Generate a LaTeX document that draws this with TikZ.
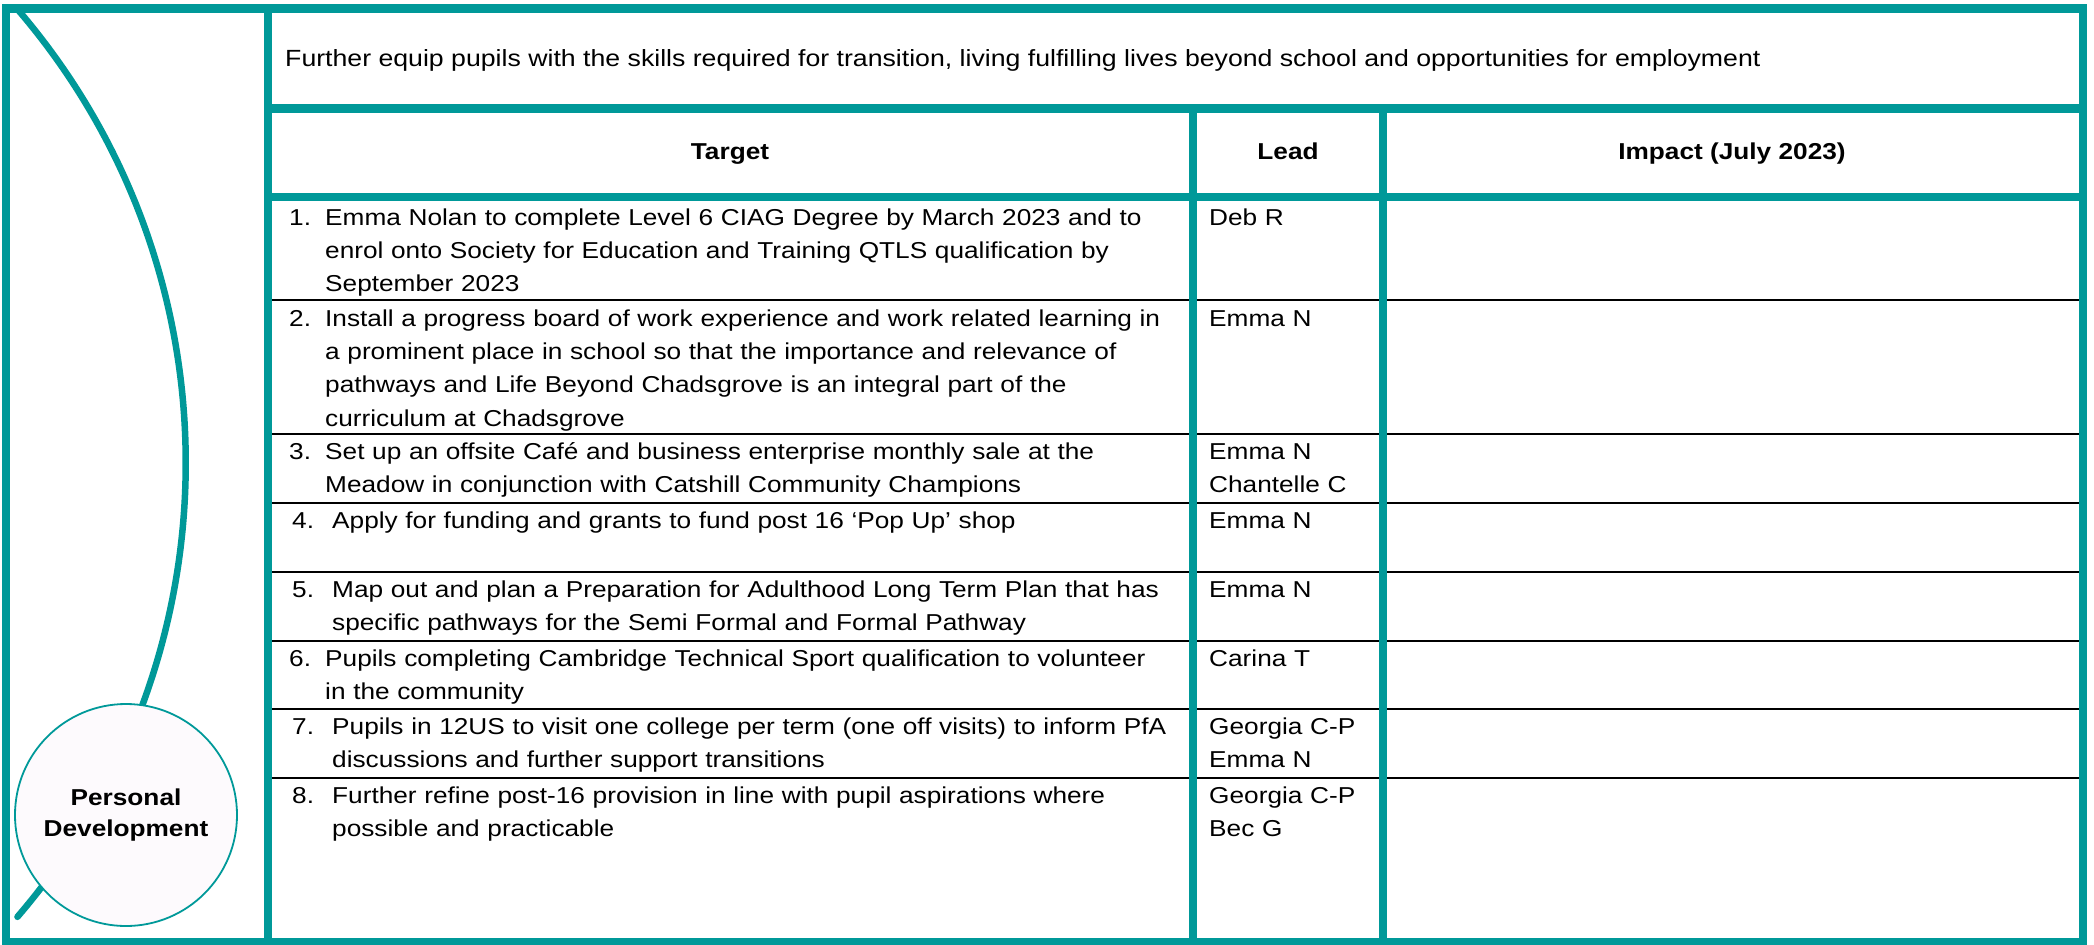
\documentclass[tikz,border=0pt]{standalone}
\usepackage{fontspec}
\setmainfont{Liberation Sans}[FakeStretch=1.14]
\definecolor{pdteal}{RGB}{0,153,153}
\definecolor{pdbubble}{RGB}{253,250,253}

\begin{document}
\begin{tikzpicture}[x=1pt,y=-1pt,
  frame/.style={draw=pdteal,line width=8.5pt},
  rowline/.style={draw=black,line width=1.3pt},
  txt/.style={font=\fontsize{23}{33.4}\selectfont,inner sep=0pt},
  head/.style={inner sep=0pt,anchor=base,font=\fontsize{23}{33.4}\selectfont\bfseries},
  num/.style={txt,anchor=base west},
  target/.style={txt,anchor=base west,text width=1000pt,align=left},
  lead/.style={txt,anchor=base west,text width=170pt,align=left}]
\useasboundingbox (0,0) rectangle (2094,945);

% the sweep behind the bubble
\coordinate (sweeptop) at (19,11);
\draw[pdteal,line width=6.5pt,line cap=round] (sweeptop) arc[start angle=-40.5,end angle=40.7,radius=696];
\node[circle,draw=pdteal,line width=1.8pt,fill=pdbubble,minimum size=222pt,inner sep=0pt,align=center,
  font=\fontsize{23}{31.3}\selectfont\bfseries] (bubble) at (126,815) {Personal\\Development};

% row rules
\draw[rowline] (268,300) -- (2083,300);
\draw[rowline] (268,434) -- (2083,434);
\draw[rowline] (268,503) -- (2083,503);
\draw[rowline] (268,572) -- (2083,572);
\draw[rowline] (268,641) -- (2083,641);
\draw[rowline] (268,709) -- (2083,709);
\draw[rowline] (268,778) -- (2083,778);

% teal frame
\draw[frame] (6,8.5) rectangle (2083,942.5);
\draw[frame] (268,8.5) -- (268,942.5);
\draw[frame] (268,108.5) -- (2083,108.5);
\draw[frame] (268,197) -- (2083,197);
\draw[frame] (1193,108.5) -- (1193,942.5);
\draw[frame] (1383,108.5) -- (1383,942.5);

\node[inner sep=0pt,anchor=base west,font=\fontsize{23.4}{33.4}\selectfont] (aim) at (285,66.7) {Further equip pupils with the skills required for transition, living fulfilling lives beyond school and opportunities for employment};

\node[head] (htarget) at (730,159.5) {Target};
\node[head] (hlead) at (1288,159.5) {Lead};
\node[head] (himpact) at (1732,159.5) {Impact (July 2023)};

\node[num] (n1) at (289,225) {1.};
\node[target] (t1) at (325,225) {Emma Nolan to complete Level 6 CIAG Degree by March 2023 and to\\enrol onto Society for Education and Training QTLS qualification by\\September 2023};
\node[lead] (l1) at (1209,225) {Deb R};

\node[num] (n2) at (289,326) {2.};
\node[target] (t2) at (325,326) {Install a progress board of work experience and work related learning in\\a prominent place in school so that the importance and relevance of\\pathways and Life Beyond Chadsgrove is an integral part of the\\curriculum at Chadsgrove};
\node[lead] (l2) at (1209,326) {Emma N};

\node[num] (n3) at (289,459) {3.};
\node[target] (t3) at (325,459) {Set up an offsite Café and business enterprise monthly sale at the\\Meadow in conjunction with Catshill Community Champions};
\node[lead] (l3) at (1209,459) {Emma N\\Chantelle C};

\node[num] (n4) at (292,528.5) {4.};
\node[target] (t4) at (332,528.5) {Apply for funding and grants to fund post 16 ‘Pop Up’ shop};
\node[lead] (l4) at (1209,528.5) {Emma N};

\node[num] (n5) at (292,597.5) {5.};
\node[target] (t5) at (332,597.5) {Map out and plan a Preparation for Adulthood Long Term Plan that has\\specific pathways for the Semi Formal and Formal Pathway};
\node[lead] (l5) at (1209,597.5) {Emma N};

\node[num] (n6) at (289,666.5) {6.};
\node[target] (t6) at (325,666.5) {Pupils completing Cambridge Technical Sport qualification to volunteer\\in the community};
\node[lead] (l6) at (1209,666.5) {Carina T};

\node[num] (n7) at (292,734.5) {7.};
\node[target] (t7) at (332,734.5) {Pupils in 12US to visit one college per term (one off visits) to inform PfA\\discussions and further support transitions};
\node[lead] (l7) at (1209,734.5) {Georgia C-P\\Emma N};

\node[num] (n8) at (292,803.5) {8.};
\node[target] (t8) at (332,803.5) {Further refine post-16 provision in line with pupil aspirations where\\possible and practicable};
\node[lead] (l8) at (1209,803.5) {Georgia C-P\\Bec G};
\end{tikzpicture}
\end{document}
